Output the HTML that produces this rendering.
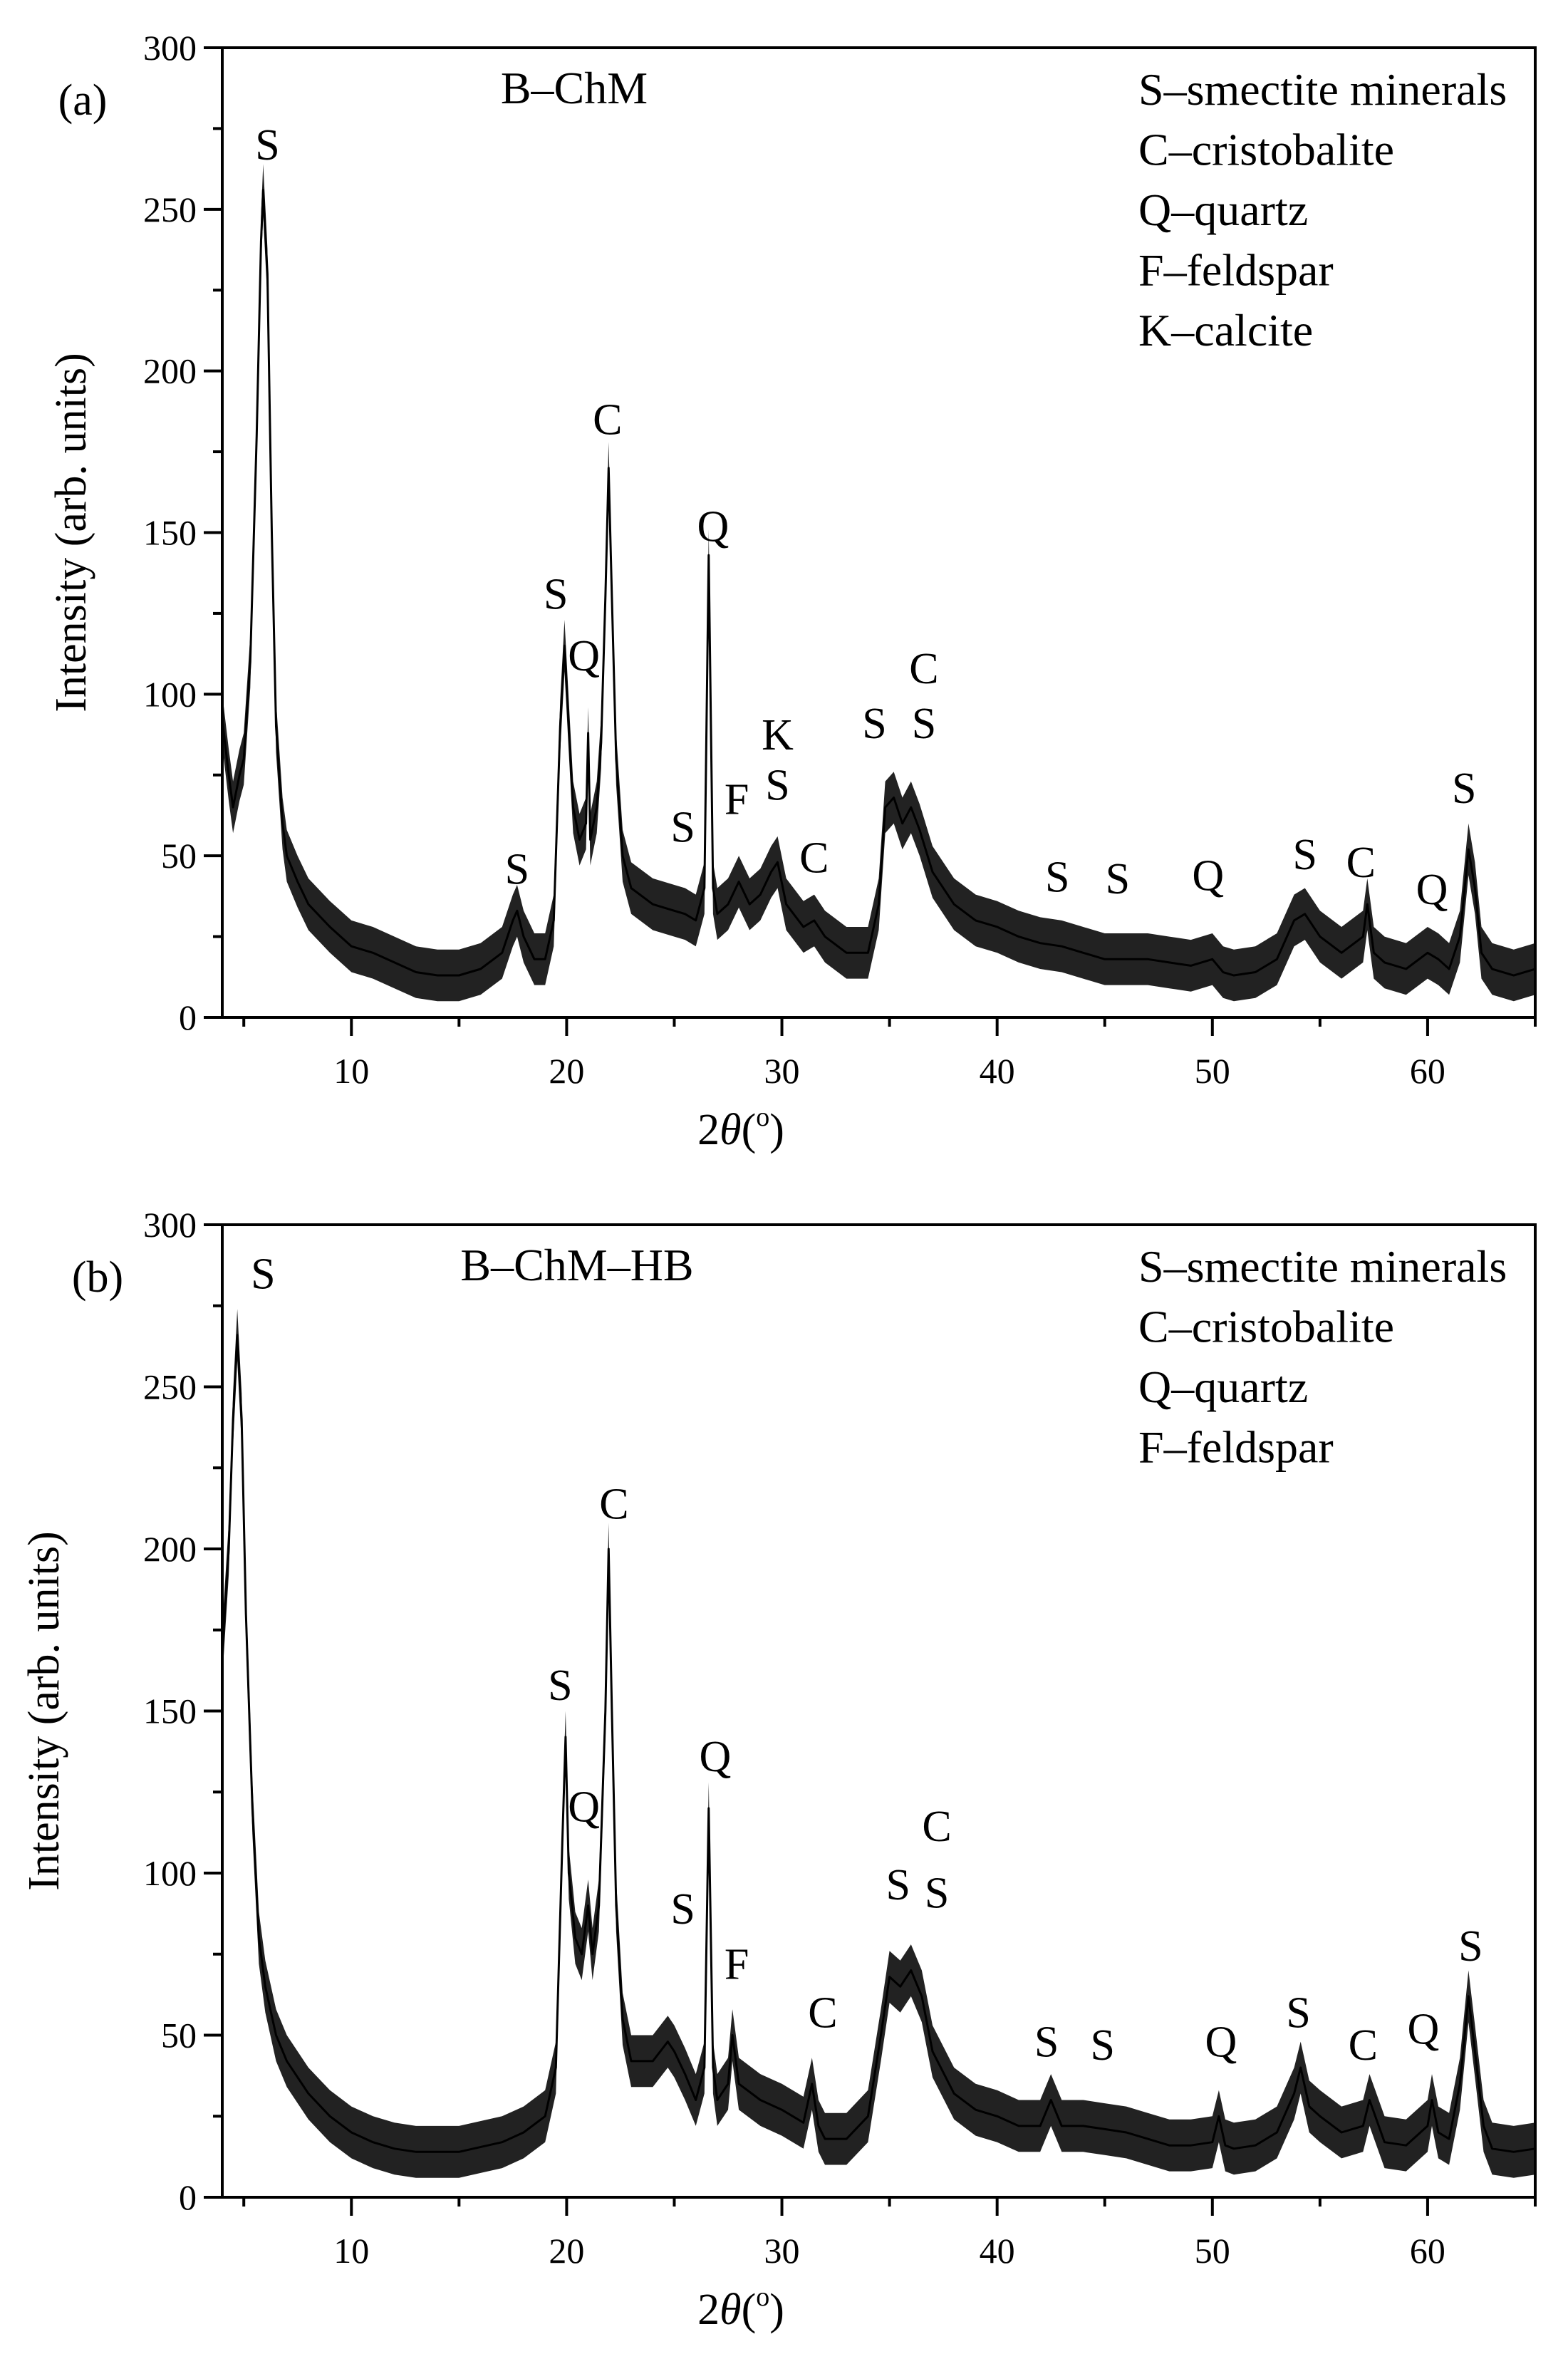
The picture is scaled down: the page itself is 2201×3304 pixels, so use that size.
<!DOCTYPE html>
<html><head><meta charset="utf-8">
<style>
html,body{margin:0;padding:0;background:#fff;}
svg{display:block;}
text{font-family:"Liberation Serif","DejaVu Serif",serif;fill:#000;}
</style></head>
<body>
<svg id="chart" width="2201" height="3304" viewBox="0 0 2201 3304" xmlns="http://www.w3.org/2000/svg"></svg>
<script>
// ---- data (panel a: B-ChM) ----
const anglesA = [4,4.3,4.5,4.8,5.0,5.3,5.6,5.8,5.9,6.1,6.3,6.5,6.8,7,7.5,8,9,10,11,12,13,14,15,16,17,17.5,17.7,18,18.5,19,19.4,19.7,19.9,20.1,20.3,20.6,20.9,21.0,21.1,21.4,21.6,21.8,21.95,22.1,22.3,22.6,23,24,25,25.5,26,26.4,26.6,26.8,27,27.5,28,28.5,29,29.5,29.8,30.2,31,31.5,32,33,34,34.5,34.8,35.2,35.6,36,36.4,37,38,39,40,41,42,43,44,45,46,47,48,49,50,50.5,51,52,53,53.8,54.3,55,56,57,57.2,57.5,58,59,60,60.5,61,61.5,61.9,62.2,62.5,63,64,65];
const intensityA = [92,75,65,75,80,110,180,240,256,230,150,90,60,50,42,35,28,22,20,17,14,13,13,15,20,30,33,25,18,18,30,90,115,90,65,55,60,88,55,65,85,130,170,130,80,50,40,35,33,32,30,40,143,40,32,35,42,35,38,45,48,35,28,30,25,20,20,35,65,68,60,65,58,45,35,30,28,25,23,22,20,18,18,18,17,16,18,14,13,14,18,30,32,25,20,25,35,20,17,15,20,18,15,25,52,40,20,15,13,15];
// ---- data (panel b: B-ChM-HB) ----
const anglesB = [4,4.3,4.5,4.7,4.9,5.1,5.4,5.7,6,6.5,7,8,9,10,11,12,13,15,17,18,19,19.5,19.8,19.95,20.1,20.4,20.7,21,21.2,21.5,21.8,21.95,22.1,22.3,22.6,23,24,24.7,25,25.5,26,26.4,26.6,26.8,27,27.5,27.7,28,29,30,31,31.4,31.7,32,33,34,34.6,35,35.5,36,36.5,37,38,39,40,41,42,42.5,43,44,45,46,47,48,49,50,50.3,50.6,51,52,53,53.8,54.1,54.5,55,56,57,57.3,58,59,60,60.2,60.5,61,61.5,61.9,62.2,62.6,63,64,65];
const intensityB = [168,200,240,266,240,180,120,80,65,50,42,32,25,20,17,15,14,14,17,20,25,40,110,142,100,80,75,90,75,90,150,200,150,90,55,42,42,48,45,38,30,40,120,40,30,35,50,35,30,27,23,35,22,18,18,25,50,68,65,70,62,45,32,27,25,22,22,30,22,22,21,20,18,16,16,17,25,16,15,16,20,32,40,28,25,20,22,30,17,16,22,30,20,18,35,62,45,22,15,14,15];
// ---- axis ticks ----
const yTicks = [0,50,100,150,200,250,300];
const yMinor = [25,75,125,175,225,275];
const xTicks = [10,20,30,40,50,60];
const xMinor = [5,15,25,35,45,55,65];
// ---- peak annotations [label, angle, intensity position] ----
const labelsA = [["S",6.1,270],["S",17.7,46],["S",19.5,131],["Q",20.8,112],["C",21.9,185],["Q",26.8,152],["S",25.4,59],["F",27.9,67.6],["K",29.8,87.5],["S",29.8,72],["C",31.5,49.5],["S",34.3,91],["C",36.6,108],["S",36.6,91],["S",42.8,43.5],["S",45.6,43],["Q",49.8,44],["S",54.3,50.5],["C",56.9,48],["Q",60.2,39.7],["S",61.7,71]];
const labelsB = [["S",5.9,285],["S",19.7,158],["Q",20.8,120.6],["C",22.2,214],["Q",26.9,136],["S",25.4,89],["F",27.9,72],["C",31.9,57],["S",35.4,96.5],["C",37.2,114.5],["S",37.2,94],["S",42.3,48],["S",44.9,47],["Q",50.4,48],["S",54.0,57],["C",57.0,47],["Q",59.8,52],["S",62.0,77.6]];
const legendA = ["S\u2013smectite minerals","C\u2013cristobalite","Q\u2013quartz","F\u2013feldspar","K\u2013calcite"];
const legendB = ["S\u2013smectite minerals","C\u2013cristobalite","Q\u2013quartz","F\u2013feldspar"];

const NS = "http://www.w3.org/2000/svg";
const svg = document.getElementById("chart");
const X0 = 312, X1 = 2155, XMIN = 4, XMAX = 65;
function xs(v){ return X0 + (v - XMIN) / (XMAX - XMIN) * (X1 - X0); }
function mk(tag, attrs, parent){ const e = document.createElementNS(NS, tag); for (const k in attrs) e.setAttribute(k, attrs[k]); (parent||svg).appendChild(e); return e; }

function panel(cfg){
  const top = cfg.top, bot = cfg.bot;
  const ys = v => bot - v / 300 * (bot - top);
  const g = mk("g", {});
  
  
  let up = [], dn = [];
  for (let i = 0; i < cfg.xs.length; i++) {
    const px = xs(cfg.xs[i]);
    up.push(px.toFixed(1) + "," + ys(cfg.ys[i] + 8).toFixed(1));
    dn.unshift(px.toFixed(1) + "," + ys(Math.max(cfg.ys[i] - 8, 1)).toFixed(1));
  }
  const band = mk("polygon", {points: up.concat(dn).join(" "), fill: "#222", stroke: "none"}, g);
  
  
  const pts = cfg.xs.map((x, i) => xs(x).toFixed(1) + "," + ys(cfg.ys[i]).toFixed(1)).join(" ");
  const line = mk("polyline", {points: pts, fill: "none", stroke: "#000", "stroke-width": 3, "stroke-linejoin": "round"}, g);
  
  
  const fr = mk("rect", {x: X0, y: top, width: X1 - X0, height: bot - top, fill: "none", stroke: "#000", "stroke-width": 4}, g);
  
  
  yTicks.forEach(t => {
    const tk = mk("line", {x1: X0 - 26, x2: X0, y1: ys(t), y2: ys(t), stroke: "#000", "stroke-width": 4}, g);
    
    
    const tl = mk("text", {x: X0 - 36, y: ys(t) + 17, "font-size": 50, "text-anchor": "end"}, g);
    tl.textContent = t;
    
    
  });
  yMinor.forEach(t => {
    const tk = mk("line", {x1: X0 - 13, x2: X0, y1: ys(t), y2: ys(t), stroke: "#000", "stroke-width": 4}, g);
    
    
  });
  xTicks.forEach(t => {
    const tk = mk("line", {x1: xs(t), x2: xs(t), y1: bot, y2: bot + 26, stroke: "#000", "stroke-width": 4}, g);
    
    
    const tl = mk("text", {x: xs(t), y: bot + 92, "font-size": 50, "text-anchor": "middle"}, g);
    tl.textContent = t;
    
    
  });
  xMinor.forEach(t => {
    const tk = mk("line", {x1: xs(t), x2: xs(t), y1: bot, y2: bot + 13, stroke: "#000", "stroke-width": 4}, g);
    
    
  });
  cfg.labels.forEach(l => {
    const t = mk("text", {x: xs(l[1]), y: ys(l[2]) + 21, "font-size": 62, "text-anchor": "middle"}, g);
    t.textContent = l[0];
    
    
  });
  cfg.legend.forEach((s, i) => {
    const t = mk("text", {x: 1598, y: top + 80 + i * 84.5, "font-size": 64}, g);
    t.textContent = s;
    
    
  });
  const pl = mk("text", {x: cfg.tagX, y: top + 94, "font-size": 62, "text-anchor": "middle"}, g);
  pl.textContent = cfg.tag;
  
  
  const st = mk("text", {x: cfg.sampleX, y: top + 78, "font-size": 64, "text-anchor": "middle"}, g);
  st.textContent = cfg.sample;
  
  
  const yt = mk("text", {x: 0, y: 0, "font-size": 62, "text-anchor": "middle", transform: "translate(" + cfg.ytX + "," + ((top + bot) / 2) + ") rotate(-90)"}, g);
  yt.textContent = "Intensity (arb. units)";
  
  
  const xt = mk("text", {x: 1040, y: bot + 178, "font-size": 62, "text-anchor": "middle"}, g);
  xt.innerHTML = '2<tspan font-style="italic">\u03b8</tspan>(<tspan font-size="38" dy="-26">o</tspan><tspan dy="26">)</tspan>';
  
  
}

panel({name: "panel-a", top: 67, bot: 1428, xs: anglesA, ys: intensityA, labels: labelsA, legend: legendA, tag: "(a)", tagX: 116, sample: "B\u2013ChM", sampleX: 806, ytX: 120});
panel({name: "panel-b", top: 1719, bot: 3084, xs: anglesB, ys: intensityB, labels: labelsB, legend: legendB, tag: "(b)", tagX: 137, sample: "B\u2013ChM\u2013HB", sampleX: 810, ytX: 82});
</script>
</body></html>
